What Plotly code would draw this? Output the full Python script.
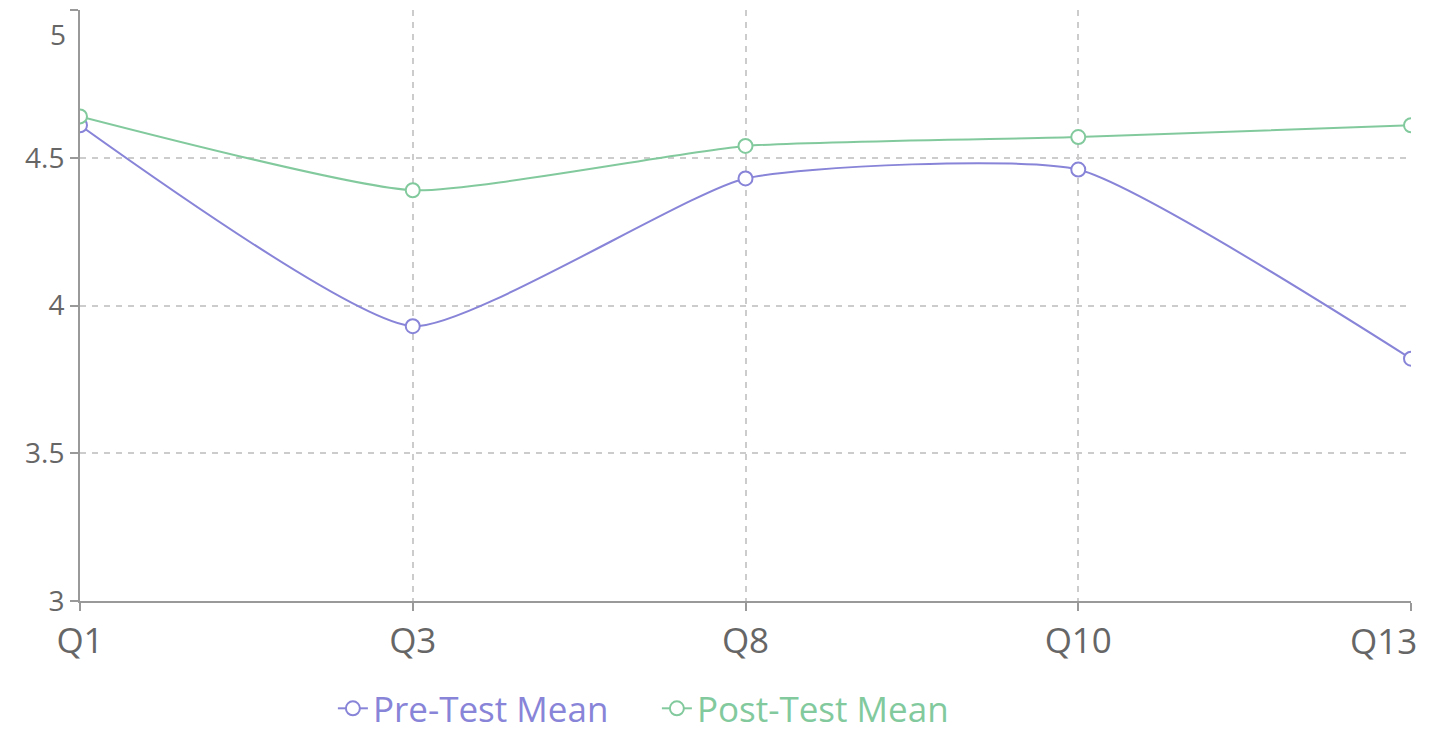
import plotly.graph_objects as go

questions = ["Q1", "Q3", "Q8", "Q10", "Q13"]
pre_test_mean = [4.61, 3.93, 4.43, 4.46, 3.82]
post_test_mean = [4.64, 4.39, 4.54, 4.57, 4.61]
y_ticks = [3, 3.5, 4, 4.5, 5]
y_tick_text = ["3", "3.5", "4", "4.5", "5"]

PRE_COLOR = "#8884d8"
POST_COLOR = "#82ca9d"
FONT = "Open Sans, Noto Sans, sans-serif"

fig = go.Figure()
for name, vals, col in [("Pre-Test Mean", pre_test_mean, PRE_COLOR),
                        ("Post-Test Mean", post_test_mean, POST_COLOR)]:
    fig.add_trace(go.Scatter(
        x=questions, y=vals,
        name=f"<span style='color:{col}'>{name}</span>",
        mode="lines+markers",
        line=dict(color=col, width=2, shape="spline", smoothing=0.5),
        marker=dict(size=14, color="white", line=dict(color=col, width=2)),
    ))

x_font = dict(family=FONT, size=35, color="#666666")
y_font = dict(family=FONT, size=28, color="#666666")

# tick labels: the last x label and the top y label are nudged inside the chart
x_tick_text = questions[:-1] + [""]
y_tick_text_axis = y_tick_text[:-1] + [""]

fig.update_layout(
    width=1421, height=723,
    margin=dict(l=72, r=18, t=2, b=130, autoexpand=False),
    paper_bgcolor="white", plot_bgcolor="white",
    showlegend=True,
    legend=dict(orientation="h", x=0.19, xanchor="left", y=-0.182, yanchor="middle",
                font=dict(family=FONT, size=35),
                itemwidth=30, entrywidth=279, entrywidthmode="pixels",
                bgcolor="rgba(0,0,0,0)"),
    xaxis=dict(type="category", range=[0, 4], tickvals=questions, ticktext=x_tick_text,
               showline=True, linecolor="#999999", linewidth=2,
               showgrid=True, gridcolor="#cccccc", griddash="6px,6px", gridwidth=1.5,
               ticks="outside", ticklen=8, tickcolor="#999999", tickwidth=2,
               tickfont=x_font, zeroline=False, automargin=False),
    yaxis=dict(range=[3, 5], tickvals=y_ticks, ticktext=y_tick_text_axis,
               showline=True, linecolor="#999999", linewidth=2,
               showgrid=True, gridcolor="#cccccc", griddash="6px,6px", gridwidth=1.5,
               ticks="outside", ticklen=8, tickcolor="#999999", tickwidth=2,
               tickfont=y_font, zeroline=False, automargin=False),
)

fig.add_annotation(x=questions[-1], y=0, yref="paper", xref="x",
                   text=questions[-1], showarrow=False, font=x_font,
                   xanchor="right", yanchor="middle", xshift=8, yshift=-39)
fig.add_annotation(x=0, xref="paper", y=y_ticks[-1], yref="y",
                   text=y_tick_text[-1], showarrow=False, font=y_font,
                   xanchor="right", yanchor="middle", xshift=-12, yshift=-24)

fig.write_html("out.html")
